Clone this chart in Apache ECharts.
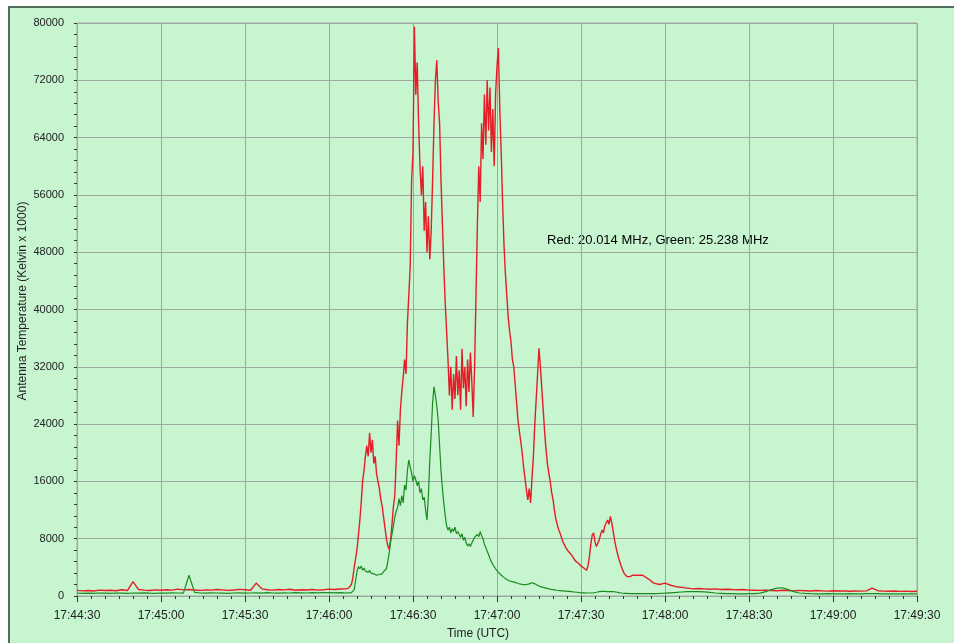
<!DOCTYPE html>
<html>
<head>
<meta charset="utf-8">
<script src="https://cdn.jsdelivr.net/npm/echarts@6/dist/echarts.min.js"></script>
<style>
html,body{margin:0;padding:0;background:#ffffff;}
#chart{width:954px;height:643px;}
</style>
</head>
<body>
<div id="chart"></div>
<script>
// Time axis: seconds after 17:44:30 UTC
const tickLabels = ['17:44:30','17:45:00','17:45:30','17:46:00','17:46:30','17:47:00','17:47:30','17:48:00','17:48:30','17:49:00','17:49:30'];
const yTicks = [0,8000,16000,24000,32000,40000,48000,56000,64000,72000,80000];

// Red (20.014 MHz): quiet period, t = 0..94 s every 2 s
const redPre = [
  780,720,760,700,820,760,800,740,880,760,
  2000,900,820,760,850,800,880,820,960,860,
  900,840,780,860,820,900,860,780,840,920,
  880,800,1800,1000,880,820,900,860,940,800,
  880,840,900,820,880,960,900,980
];
// Red burst, t = 96..200 s every 0.5 s (rows of 5 s)
const redBurst = [
  1000,1050,1100,1300,1600,2500,4000,5200,6500,8500,
  10500,13000,16000,17500,19500,21000,19500,22800,20000,21800,
  18500,19500,17000,16000,15000,13500,12500,11000,9500,8000,
  7000,6500,7800,10000,12500,14000,19000,24500,21000,26000,
  28500,30500,33000,31000,38000,42000,46000,58000,62000,79500,
  70000,74500,66000,60000,56000,60000,51000,55000,48000,53000,
  47000,51000,58000,66000,72000,74800,69000,66000,58000,52000,
  46000,41000,37000,33000,28000,32000,26000,31000,27500,33500,
  28000,31500,26000,34500,29000,32000,26500,33000,28500,34000,
  30000,25000,32000,42000,52000,60000,55000,66000,61000,70000,
  63000,72000,65000,71000,62000,68000,60000,70000,74000,76500,
  68000,62000,55000,49000,45000,42000,39000,37000,35500,33000,
  32000,29500,27000,24500,23000,21500,20000,18000,16500,14800,
  13400,15000,13000,16500,19500,24000,27500,31000,34600,32000,
  29000,26000,23000,20500,18500,17200,16000,14500,13500,12000,
  10800,10000,9300,8800,8200,7600,7200,6800,6500,6200,
  6400,5800,5500,5200,4900,4700,4600,4400,4200,4000,
  3900,3700,3600,4200,5500,7200,8500,8800,7600,6900,
  6800,7800,8600,9200,8800,9800,10200,10600,10000,11100,
  10200,9000,7800,6800,6000,5200,4600,4000,3500,3100,
  2900,2700,2600,2700,2800,2900,2750,2900,2800
];
// Red decay, t = 202..300 s every 2 s
const redPost = [
  2900,2400,1800,1600,1800,1500,1300,1200,1100,1000,
  1050,1000,950,1000,900,950,900,880,900,820,
  800,780,820,760,740,800,760,720,780,740,
  700,760,720,680,740,700,720,660,700,680,
  720,1100,740,680,660,700,640,680,620,660
];

// Green (25.238 MHz)
const greenPre = [
  420,380,400,360,420,400,380,420,400,380,
  420,400,440,400,380,420,400,440,420,400,
  2900,500,420,400,440,420,400,380,420,440,
  400,420,440,400,460,420,400,440,420,460,
  440,420,460,440,480,460,440,480
];
const greenBurst = [
  420,400,440,420,460,400,900,2200,3400,4100,
  3800,4200,3600,3900,3500,3700,3300,3600,3200,3400,
  3100,3300,2900,2700,3000,2800,3100,3400,3300,3800,
  4800,6000,7600,8600,9800,11000,11800,12400,13600,12600,
  14000,13000,15500,14800,17500,19000,18000,17200,16000,16800,
  16200,15400,16000,14400,15000,13400,13800,12000,10600,14000,
  19000,22700,27000,29200,28000,26500,24500,21000,17500,15000,
  13000,11200,9800,9200,9600,8800,9400,9000,9600,8700,
  9000,8600,8200,8700,7800,8200,7400,7000,7300,6900,
  7400,7800,8200,8000,8600,8300,9000,8400,8000,7200,
  6800,6200,5800,5200,4800,4400,4100,3800,3600,3300,
  3100,2900,2700,2600,2400,2300,2200,2100,2100,2000,
  2000,1900,1800,1750,1700,1650,1600,1600,1550,1600,
  1650,1700,1800,1850,1800,1700,1600,1500,1400,1300,
  1250,1200,1150,1100,1050,1000,960,920,880,850,
  820,800,780,760,740,720,700,680,660,640,
  620,600,580,560,540,520,500,480,460,450,
  440,430,420,420,410,420,430,450,480,520,
  560,600,620,640,650,640,620,600,600,620,
  640,620,600,560,520,480,450,420,400,380,
  370,360,350,340,340,330,330,320,320
];
const greenPost = [
  320,330,340,360,400,450,500,560,600,620,
  620,580,500,420,380,340,320,300,300,320,
  340,400,600,900,1100,1150,900,600,420,360,
  320,300,300,320,300,290,300,320,300,300,
  320,340,320,300,290,300,310,300,290,300
];

function joinSeries(pre, burst, post) {
  const out = [];
  pre.forEach((v, i) => out.push([i * 2, v]));
  burst.forEach((v, i) => out.push([96 + i * 0.5, v]));
  post.forEach((v, i) => out.push([202 + i * 2, v]));
  return out;
}

const FONT = '"Liberation Sans", Arial, sans-serif';
const BG = '#c6f5d0';
const GRIDC = '#9ea89f';

const chart = echarts.init(document.getElementById('chart'), null, {renderer: 'canvas'});
chart.setOption({
  animation: false,
  backgroundColor: '#ffffff',
  graphic: [
    {type: 'rect', z: -10, silent: true, shape: {x: 8, y: 6, width: 946, height: 637}, style: {fill: BG}},
    {type: 'line', z: -9, silent: true, shape: {x1: 8, y1: 7, x2: 954, y2: 7}, style: {stroke: '#526d5a', lineWidth: 2}},
    {type: 'line', z: -9, silent: true, shape: {x1: 9, y1: 6, x2: 9, y2: 643}, style: {stroke: '#526d5a', lineWidth: 2}},
    {type: 'text', silent: true, x: 547, y: 240,
     style: {text: 'Red: 20.014 MHz, Green: 25.238 MHz', font: '13px ' + FONT, fill: '#000', textVerticalAlign: 'middle'}},
    {type: 'text', silent: true, x: 478, y: 634,
     style: {text: 'Time (UTC)', font: '12px ' + FONT, fill: '#222', textAlign: 'center', textVerticalAlign: 'middle'}},
    {type: 'text', silent: true, x: 23, y: 301, rotation: Math.PI / 2,
     style: {text: 'Antenna Temperature (Kelvin x 1000)', font: '12px ' + FONT, fill: '#222', textAlign: 'center', textVerticalAlign: 'middle'}}
  ],
  grid: {left: 77, right: 37, top: 23, bottom: 47, show: true, borderColor: GRIDC, borderWidth: 1, backgroundColor: 'transparent'},
  xAxis: {
    type: 'value', min: 0, max: 300, interval: 30, offset: 4,
    axisLine: {show: false},
    axisTick: {show: true, length: 6, lineStyle: {color: '#333'}},
    minorTick: {show: true, splitNumber: 6, length: 3, lineStyle: {color: '#333'}},
    splitLine: {show: true, lineStyle: {color: GRIDC, width: 1}},
    axisLabel: {margin: 10, fontSize: 12, fontFamily: FONT, color: '#222',
      formatter: v => tickLabels[Math.round(v / 30)] || ''}
  },
  yAxis: {
    type: 'value', min: 0, max: 80000, interval: 8000, offset: 6,
    axisLine: {show: false},
    axisTick: {show: true, length: 3, lineStyle: {color: '#333'}},
    minorTick: {show: true, splitNumber: 5, length: 3, lineStyle: {color: '#333'}},
    splitLine: {show: true, lineStyle: {color: GRIDC, width: 1}},
    axisLabel: {margin: 7, fontSize: 11, fontFamily: FONT, color: '#222',
      formatter: v => String(yTicks[Math.round(v / 8000)])}
  },
  series: [
    {name: 'Red', type: 'line', data: joinSeries(redPre, redBurst, redPost), showSymbol: false, symbol: 'none',
     lineStyle: {color: '#e41d26', width: 1.4}, sampling: null, z: 3},
    {name: 'Green', type: 'line', data: joinSeries(greenPre, greenBurst, greenPost), showSymbol: false, symbol: 'none',
     lineStyle: {color: '#1b8a1f', width: 1.2}, sampling: null, z: 4}
  ]
});
</script>
</body>
</html>
